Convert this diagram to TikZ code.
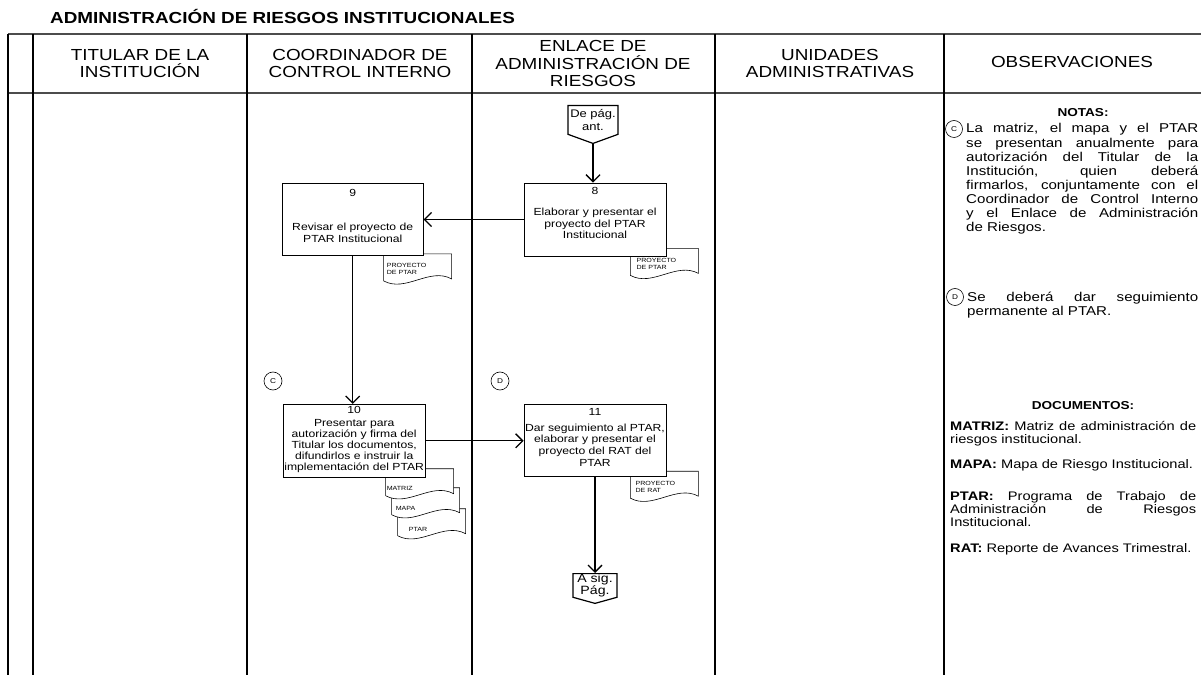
\documentclass[tikz,border=0pt]{standalone}
\usepackage{fontspec}
\setmainfont{Liberation Sans}[FakeStretch=1.18]
\usetikzlibrary{positioning,arrows.meta,shapes.symbols,backgrounds,calc}
\tolerance=10000
\hbadness=10000

\tikzset{
  >={Straight Barb[length=7pt,width=14pt]},
  rule/.style={draw=black!70,line width=2pt},
  lane/.style={draw=black,line width=1.2pt},
  ttl/.style={font=\fontsize{16}{18}\selectfont\bfseries,inner sep=0pt},
  hdr/.style={align=center,font=\fontsize{16}{17.5}\selectfont,inner sep=0pt},
  act/.style={draw,fill=white,line width=0.8pt,minimum width=142pt,minimum height=73pt,
    align=center,font=\fontsize{10.3}{11.6}\selectfont,inner sep=1pt},
  num/.style={font=\fontsize{10.3}{11.6}\selectfont,inner sep=0pt,anchor=north},
  conn/.style={signal,signal to=south,draw,fill=white,line width=1.2pt,align=center,inner sep=0pt},
  flow/.style={->,draw=black,line width=1.3pt},
  tagc/.style={circle,draw,line width=0.6pt,minimum size=18pt,inner sep=0pt,
    font=\fontsize{7}{7}\selectfont},
  docline/.style={draw,fill=white,line width=0.6pt},
  doctxt/.style={font=\fontsize{6}{7}\selectfont,align=left,inner sep=0pt,anchor=west},
  nhead/.style={font=\fontsize{11.5}{13}\selectfont\bfseries,inner sep=0pt},
  note/.style={align=justify,inner sep=0pt,anchor=north west,font=\fontsize{12.8}{14.1}\selectfont},
  docdef/.style={align=justify,inner sep=0pt,anchor=north west,text width=246pt,
    font=\fontsize{12.4}{13}\selectfont},
}

% documento con borde ondulado: nombre, esquina superior izquierda, desplazamiento del texto, texto
\newcommand{\docu}[4]{%
  \coordinate (#1) at (#2);
  \filldraw[docline] (#1) -- ($(#1)+(68,0)$) -- ($(#1)+(68,-25)$)
    .. controls ($(#1)+(46,-13)$) and ($(#1)+(22,-39)$) .. ($(#1)+(0,-27)$) -- cycle;
  \node[doctxt] (#1t) at ($(#1)+(#3)$) {#4};
}

\begin{document}
\begin{tikzpicture}[x=1pt,y=1pt,node distance=100pt]
  \useasboundingbox (0,0) rectangle (1201,675);

  % titulo y carriles
  \node[ttl,anchor=west] (ttl) at (50,659) {ADMINISTRACIÓN DE RIESGOS INSTITUCIONALES};
  \draw[rule] (8,641) -- (1201,641);
  \draw[rule] (8,582) -- (1201,582);
  \foreach \x in {8,33,247,472,715,944}
    \draw[lane] (\x,641) -- (\x,0);

  \node[hdr] (hTit) at (140,611.5) {TITULAR DE LA\\INSTITUCIÓN};
  \node[hdr] (hCoo) at (360,611.5) {COORDINADOR DE\\CONTROL INTERNO};
  \node[hdr] (hEnl) at (593,611.5) {ENLACE DE\\ADMINISTRACIÓN DE\\RIESGOS};
  \node[hdr] (hUni) at (830,611.5) {UNIDADES\\ADMINISTRATIVAS};
  \node[hdr] (hObs) at (1072,613) {OBSERVACIONES};

  % actividades
  \node[conn,anchor=north,minimum width=50pt,minimum height=37pt,signal pointer angle=140,
    font=\fontsize{11}{13}\selectfont] (dpa) at (593,570) {De pág.\\ant.};
  \node[act,label={[num,yshift=-5pt]north:8}] (b8) at (595,455.5)
    {\mbox{}\\[4pt]Elaborar y presentar el\\proyecto del PTAR\\Institucional};
  \node[act,left=of b8,minimum width=141pt,minimum height=72pt,label={[num,yshift=-6pt]north:9}] (b9)
    {\mbox{}\\[22pt]Revisar el proyecto de\\PTAR Institucional};
  \node[act,below=148pt of b9,xshift=1.5pt,font=\fontsize{10.3}{11.1}\selectfont,
    label={[num,yshift=-2pt]north:10}] (b10)
    {\mbox{}\\[6pt]Presentar para\\autorización y firma del\\Titular los documentos,\\difundirlos e instruir la\\implementación del PTAR};
  \node[act,right=98pt of b10,minimum height=72pt,label={[num,yshift=-4pt]north:11}] (b11)
    {\mbox{}\\[4pt]Dar seguimiento al PTAR,\\elaborar y presentar el\\proyecto del RAT del\\PTAR};
  \node[conn,anchor=north,minimum width=44pt,minimum height=28pt,signal pointer angle=149,
    font=\fontsize{12}{12.5}\selectfont] (asp) at (595,102) {A sig.\\Pág.};

  \node[tagc] (cC) at (273,294) {C};
  \node[tagc] (cD) at (500,294) {D};

  % documentos detras de las cajas
  \begin{scope}[on background layer]
    \docu{d9}{$(b9.south east)+(-40,2)$}{3,-15}{PROYECTO\\DE PTAR}
    \docu{d8}{$(b8.south east)+(-36,8)$}{6,-16}{PROYECTO\\DE PTAR}
    \docu{dPtar}{$(b10.south east)+(-28,-31)$}{11,-21}{PTAR}
    \docu{dMapa}{$(b10.south east)+(-34,-10)$}{4,-21}{MAPA}
    \docu{dMatriz}{$(b10.south east)+(-40,9)$}{1,-20}{MATRIZ}
    \docu{dRat}{$(b11.south east)+(-36,6)$}{5,-16}{PROYECTO\\DE RAT}
  \end{scope}

  \draw[flow] (dpa.south) -- (dpa.south |- b8.north);
  \draw[flow] (b8.west) -- (b8.west -| b9.east);
  \draw[flow] (b9.south) -- (b9.south |- b10.north);
  \draw[flow] (b10.east) -- (b10.east -| b11.west);
  \draw[flow] (b11.south) -- (b11.south |- asp.north);

  % observaciones
  \node[nhead] (nNot) at (1083,562) {NOTAS:};
  \node[tagc,minimum size=17pt] (nC) at (954,546) {C};
  \node[note,text width=232pt] (ntC) at (966,551.5)
    {La matriz, el mapa y el PTAR\linebreak se presentan anualmente para\linebreak
     autorización del Titular de la\linebreak Institución, quien deberá\linebreak
     firmarlos, conjuntamente con el\linebreak Coordinador de Control Interno\linebreak
     y el Enlace de Administración\linebreak de Riesgos.};
  \node[tagc,minimum size=17pt] (nD) at (955,378) {D};
  \node[note,text width=231pt] (ntD) at (967,383.5)
    {Se deberá dar seguimiento\linebreak permanente al PTAR.};

  \node[nhead] (nDoc) at (1083,269) {DOCUMENTOS:};
  \node[docdef] (dfMatriz) at (950,254) {\textbf{MATRIZ:} Matriz de administración de\linebreak riesgos institucional.};
  \node[docdef] (dfMapa) at (950,216) {\textbf{MAPA:} Mapa de Riesgo Institucional.};
  \node[docdef] (dfPtar) at (950,184) {\textbf{PTAR:} Programa de Trabajo de\linebreak Administración de Riesgos\linebreak Institucional.};
  \node[docdef] (dfRat) at (950,132) {\textbf{RAT:} Reporte de Avances Trimestral.};
\end{tikzpicture}
\end{document}
